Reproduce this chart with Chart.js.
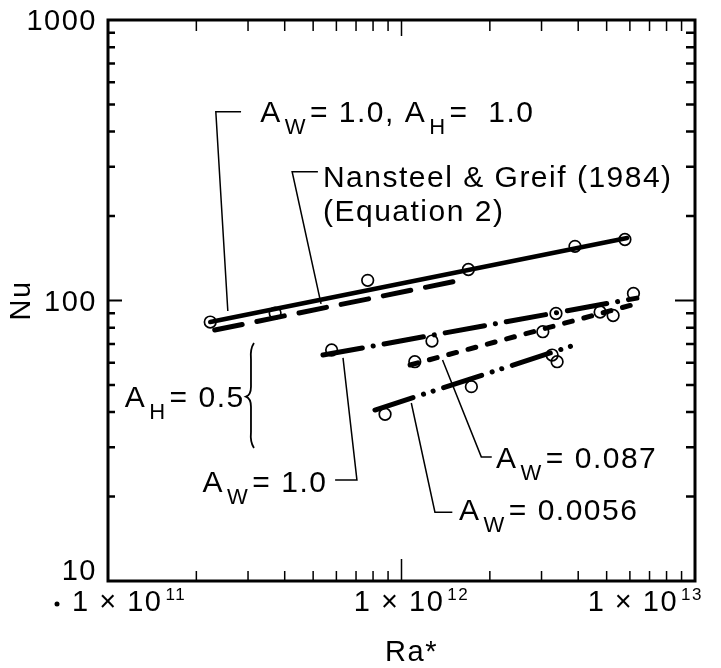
<!DOCTYPE html>
<html>
<head>
<meta charset="utf-8">
<script src="https://cdn.jsdelivr.net/npm/chart.js@4.4.1/dist/chart.umd.min.js"></script>
<style>
  html, body { margin: 0; padding: 0; background: #fff; }
  #wrap { width: 721px; height: 668px; position: relative; }
</style>
</head>
<body>
<div id="wrap"><canvas id="grafico"></canvas></div>
<script>
// ejes log-log
const xMin = 1e11, xMax = 1e13;
const yMin = 10, yMax = 1000;
const xTicks = [1e11, 1e12, 1e13];
const xTickExp = ["11", "12", "13"];
const yTicks = [10, 100, 1000];
const yTickLabels = ["10", "100", "1000"];

// puntos medidos (Ra*, Nu)
const ptsAw1Ah1 = [[2.23e11, 83.8], [3.71e11, 90.2], [7.67e11, 118], [1.69e12, 129], [3.90e12, 156], [5.77e12, 165]];
const ptsAw1Ah05 = [[5.78e11, 66.6], [1.27e12, 71.7], [3.36e12, 89.9], [6.17e12, 106]];
const ptsAw087 = [[1.11e12, 60.5], [3.03e12, 77.4], [4.75e12, 91.0], [5.26e12, 88.4]];
const ptsAw0056 = [[8.79e11, 39.3], [1.73e12, 49.3], [3.26e12, 63.9], [3.39e12, 60.5]];

// rectas ajustadas (extremos)
const lineAw1Ah1 = [[2.23e11, 83.8], [5.87e12, 167]];
const lineNansteel = [[2.31e11, 78.5], [1.52e12, 117]];
const lineAw1Ah05 = [[5.40e11, 63.9], [6.34e12, 102]];
const lineAw087 = [[1.07e12, 58.9], [6.10e12, 96.4]];
const lineAw0056 = [[8.12e11, 40.7], [3.99e12, 70.0]];

// rotulos y lineas guia (en unidades de datos)
const leaders = [
  [[2.56e11, 91.7], [2.33e11, 471], [2.84e11, 471]],
  [[5.32e11, 97.2], [4.24e11, 288], [5.19e11, 288]],
  [[6.32e11, 62.4], [7.05e11, 22.9], [5.94e11, 22.9]],
  [[1.38e12, 61.4], [1.87e12, 27.7], [2.03e12, 27.7]],
  [[1.08e12, 43.1], [1.30e12, 17.6], [1.49e12, 17.6]]
];
const notes = [
  { at: [3.30e11, 434], parts: [["A"], ["W", 1], ["= 1.0, A"], ["H", 1], ["=  1.0"]] },
  { at: [5.40e11, 254], parts: [["Nansteel & Greif (1984)"]] },
  { at: [5.40e11, 192], parts: [["(Equation 2)"]] },
  { at: [1.14e11, 41.8], parts: [["A"], ["H", 1], ["= 0.5"]] },
  { at: [2.10e11, 20.8], parts: [["A"], ["W", 1], ["= 1.0"]] },
  { at: [2.10e12, 25.3], parts: [["A"], ["W", 1], ["= 0.087"]] },
  { at: [1.57e12, 16.5], parts: [["A"], ["W", 1], ["= 0.0056"]] }
];
const brace = { x: 3.07e11, top: 70.5, mid: 45.4, bottom: 29.8 };

const FONT = "'Liberation Sans', Arial, sans-serif";
const toXY = arr => arr.map(p => ({ x: p[0], y: p[1] }));

function lineSet(arr, dash, width) {
  return {
    data: toXY(arr), showLine: true, pointRadius: 0,
    borderColor: "#000", borderWidth: width || 5,
    borderDash: dash, borderCapStyle: "round"
  };
}
function pointSet(arr) {
  return {
    data: toXY(arr), showLine: false, pointRadius: 5.8,
    pointBorderWidth: 1.7, pointBorderColor: "#000",
    pointBackgroundColor: "rgba(0,0,0,0)"
  };
}

function richWidth(ctx, parts, big, small) {
  let w = 0;
  parts.forEach(([t, s]) => {
    ctx.font = (s ? small : big) + "px " + FONT;
    w += ctx.measureText(t).width + 3;
  });
  return w - 3;
}
function drawRich(ctx, parts, x0, yb, big, small, rise) {
  let xx = x0;
  parts.forEach(([t, s]) => {
    ctx.font = (s ? small : big) + "px " + FONT;
    ctx.fillText(t, xx, s ? yb + rise : yb);
    xx += ctx.measureText(t).width + 3;
  });
}

const decor = {
  id: "decor",
  afterDraw(chart) {
    const { ctx, chartArea: a, scales: { x, y } } = chart;
    const px = v => x.getPixelForValue(v);
    const py = v => y.getPixelForValue(v);
    ctx.save();
    ctx.strokeStyle = "#000";
    ctx.fillStyle = "#000";
    ctx.lineCap = "butt";

    // marco
    ctx.lineWidth = 3;
    ctx.strokeRect(a.left, a.top, a.right - a.left, a.bottom - a.top);

    // marcas hacia adentro
    ctx.lineWidth = 1.5;
    for (let d = xMin; d < xMax; d *= 10) {
      for (let m = 1; m <= 9; m++) {
        const v = m * d;
        if (v <= xMin || v >= xMax) continue;
        const X = px(v);
        const major = m === 1;
        ctx.beginPath();
        ctx.moveTo(X, a.bottom); ctx.lineTo(X, a.bottom - (major ? 22 : 10));
        ctx.moveTo(X, a.top); ctx.lineTo(X, a.top + (major ? 16 : 11));
        ctx.stroke();
      }
    }
    for (let d = yMin; d < yMax; d *= 10) {
      for (let m = 1; m <= 9; m++) {
        const v = m * d;
        if (v <= yMin || v >= yMax) continue;
        const Y = py(v);
        const major = m === 1;
        ctx.lineWidth = major ? 2 : 2.5;
        ctx.beginPath();
        ctx.moveTo(a.left, Y); ctx.lineTo(a.left + (major ? 14 : 7), Y);
        ctx.moveTo(a.right, Y); ctx.lineTo(a.right - (major ? 20 : 9), Y);
        ctx.stroke();
      }
    }

    if ("letterSpacing" in ctx) ctx.letterSpacing = "1.5px";

    // etiquetas eje y
    ctx.textAlign = "right";
    ctx.textBaseline = "alphabetic";
    ctx.font = "29px " + FONT;
    yTicks.forEach((v, i) => {
      const base = Math.min(py(v) + 10, a.bottom - 1);
      ctx.fillText(yTickLabels[i], a.left - 11, base);
    });

    // etiquetas eje x
    ctx.textAlign = "left";
    xTicks.forEach((v, i) => {
      const parts = [["1 × 10"], [xTickExp[i], 1]];
      const w = richWidth(ctx, parts, 29, 17);
      let x0;
      if (i === 0) x0 = px(v) - 36;
      else if (i === xTicks.length - 1) x0 = px(v) + 8 - w;
      else x0 = px(v) + 10 - w / 2;
      drawRich(ctx, parts, x0, a.bottom + 30, 29, 17, -11);
      if (i === 0) {
        ctx.beginPath();
        ctx.arc(x0 - 15, a.bottom + 23, 2.5, 0, Math.PI * 2);
        ctx.fill();
      }
    });

    // titulos de ejes
    ctx.font = "29px " + FONT;
    ctx.textAlign = "center";
    ctx.fillText("Ra*", (a.left + a.right) / 2 + 10, a.bottom + 80);
    ctx.save();
    ctx.translate(22, py(100));
    ctx.rotate(-Math.PI / 2);
    ctx.textBaseline = "middle";
    ctx.fillText("Nu", 0, 0);
    ctx.restore();

    // lineas guia
    ctx.lineWidth = 1.5;
    leaders.forEach(pts => {
      ctx.beginPath();
      pts.forEach((p, i) => {
        const X = px(p[0]), Y = py(p[1]);
        if (i === 0) ctx.moveTo(X, Y); else ctx.lineTo(X, Y);
      });
      ctx.stroke();
    });

    // llave
    const bx = px(brace.x), bt = py(brace.top), bm = py(brace.mid), bb = py(brace.bottom);
    ctx.lineWidth = 1.8;
    ctx.beginPath();
    ctx.moveTo(bx + 3, bt);
    ctx.quadraticCurveTo(bx - 1, bt + 6, bx, bt + 16);
    ctx.lineTo(bx, bm - 10);
    ctx.quadraticCurveTo(bx, bm - 2, bx - 5, bm);
    ctx.quadraticCurveTo(bx, bm + 2, bx, bm + 10);
    ctx.lineTo(bx, bb - 16);
    ctx.quadraticCurveTo(bx - 1, bb - 6, bx + 3, bb);
    ctx.stroke();

    // textos
    ctx.textAlign = "left";
    ctx.textBaseline = "alphabetic";
    if ("letterSpacing" in ctx) ctx.letterSpacing = "1.5px";
    notes.forEach(n => {
      drawRich(ctx, n.parts, px(n.at[0]), py(n.at[1]), 30, 22, 12);
    });

    ctx.restore();
  }
};

const ctx = document.getElementById("grafico").getContext("2d");
new Chart(ctx, {
  type: "scatter",
  data: {
    datasets: [
      lineSet(lineAw1Ah1, [], 4.5),
      lineSet(lineNansteel, [28, 15]),
      lineSet(lineAw1Ah05, [40, 11, 0.1, 11]),
      lineSet(lineAw087, [8, 12]),
      lineSet(lineAw0056, [40, 11, 0.1, 10, 0.1, 11]),
      pointSet(ptsAw1Ah1),
      pointSet(ptsAw1Ah05),
      pointSet(ptsAw087),
      pointSet(ptsAw0056)
    ]
  },
  options: {
    responsive: true,
    maintainAspectRatio: false,
    animation: false,
    events: [],
    layout: { padding: { left: 108, right: 26, top: 20, bottom: 87 } },
    plugins: { legend: { display: false }, tooltip: { enabled: false } },
    scales: {
      x: { type: "logarithmic", min: xMin, max: xMax, display: false },
      y: { type: "logarithmic", min: yMin, max: yMax, display: false }
    }
  },
  plugins: [decor]
});
</script>
</body>
</html>
